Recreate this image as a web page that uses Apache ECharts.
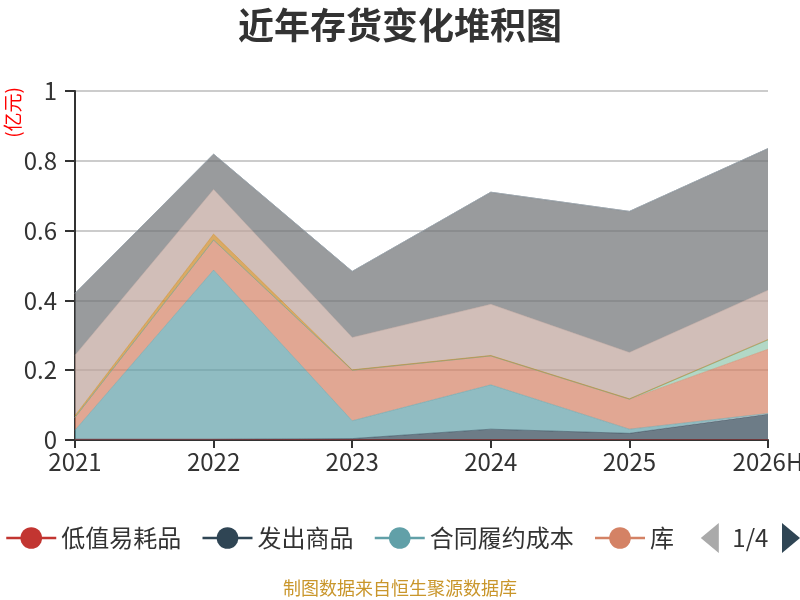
<!DOCTYPE html>
<html lang="zh">

<head>
  <meta charset="UTF-8">
  <title>近年存货变化堆积图</title>
  <script src="https://cdn.jsdelivr.net/npm/echarts@6/dist/echarts.min.js"></script>
  <style>
    html, body {
      margin: 0;
      padding: 0;
      background: #fff;
    }
  </style>
</head>

<body>
  <div id="main" style="width:800px;height:600px;"></div>
</body>
<script>
  // 年份
  let years = ['2021', '2022', '2023', '2024', '2025', '2026H']
  // 各类存货（亿元）
  let diZhiYiHaoPin = [0.002, 0.002, 0.001, 0.001, 0.001, 0.001]
  let faChuShangPin = [0, 0, 0.003, 0.030, 0.018, 0.073]
  let heTongLvYue = [0.026, 0.485, 0.051, 0.127, 0.012, 0.002]
  let kuCunShangPin = [0.037, 0.086, 0.145, 0.083, 0.086, 0.184]
  let weiTuoJiaGong = [0, 0, 0, 0, 0, 0.027]
  let weiTuoDaiXiao = [0, 0, 0, 0, 0, 0]
  let zhouZhuanCaiLiao = [0.005, 0.017, 0.001, 0.001, 0.001, 0.001]
  let yuanCaiLiao = [0.173, 0.128, 0.093, 0.147, 0.133, 0.141]
  let zaiChanPin = [0.177, 0.101, 0.189, 0.321, 0.404, 0.406]
  let ziZhiBanChengPin = [0, 0, 0, 0, 0, 0]
  let xiaoHaoXingShengWu = [0, 0, 0, 0, 0, 0]

  let names = ['低值易耗品', '发出商品', '合同履约成本', '库存商品', '委托加工物资',
    '委托代销商品', '周转材料', '原材料', '在产品', '自制半成品', '消耗性生物资产']
  let values = [diZhiYiHaoPin, faChuShangPin, heTongLvYue, kuCunShangPin, weiTuoJiaGong,
    weiTuoDaiXiao, zhouZhuanCaiLiao, yuanCaiLiao, zaiChanPin, ziZhiBanChengPin, xiaoHaoXingShengWu]

  let colors = ['#c23531', '#2f4554', '#61a0a8', '#d48265', '#91c7ae', '#749f83',
    '#ca8622', '#bda29a', '#6e7074', '#546570', '#c4ccd3']
  let fontFamily = '"Noto Sans CJK SC", "Noto Sans", sans-serif'

  initChart()

  function initChart() {
    let myChart = echarts.init(document.getElementById('main'))
    let series = names.map(function (name, i) {
      return {
        name: name,
        type: 'line',
        stack: 'total',
        symbol: 'circle',
        showSymbol: false,
        lineStyle: { width: 0.5 },
        areaStyle: { opacity: 0.7 },
        data: values[i]
      }
    })
    let option = {
      color: colors,
      textStyle: { fontFamily: fontFamily },
      title: [{
        text: '近年存货变化堆积图',
        left: 'center',
        top: 2,
        textStyle: { fontSize: 36, fontWeight: 'bold', color: '#333', fontFamily: fontFamily }
      }, {
        text: '制图数据来自恒生聚源数据库',
        left: 'center',
        top: 574,
        textStyle: { fontSize: 18, fontWeight: 'normal', color: '#c9962b', fontFamily: fontFamily }
      }],
      graphic: [{
        type: 'text',
        left: 3,
        top: 87,
        rotation: Math.PI / 2,
        style: { text: '(亿元)', fill: '#ff0000', font: '19px ' + fontFamily }
      }],
      legend: {
        type: 'scroll',
        left: 0,
        right: 0,
        top: 518,
        padding: [5, 0, 5, 5],
        itemWidth: 50,
        itemHeight: 27,
        itemGap: 20,
        lineStyle: { width: 2.5 },
        textStyle: { fontSize: 24, color: '#333' },
        pageIconSize: [18, 30],
        pageButtonGap: 26,
        pageButtonItemGap: 3,
        pageIconColor: '#2f4554',
        pageIconInactiveColor: '#aaa',
        pageTextStyle: { fontSize: 24, color: '#333' },
        data: names
      },
      grid: { left: 75, right: 32, top: 91, bottom: 160, outerBoundsMode: 'none' },
      xAxis: {
        type: 'category',
        boundaryGap: false,
        data: years,
        axisLine: { lineStyle: { color: '#333', width: 2 } },
        axisTick: { length: 8, lineStyle: { width: 2 } },
        axisLabel: { fontSize: 24, color: '#333', margin: 10 }
      },
      yAxis: {
        type: 'value',
        min: 0,
        max: 1,
        interval: 0.2,
        axisLine: { show: true, lineStyle: { color: '#333', width: 2 } },
        axisTick: { show: true, length: 10, lineStyle: { width: 2 } },
        axisLabel: { fontSize: 24, color: '#333', margin: 18 },
        splitLine: { lineStyle: { color: '#ccc', width: 2 } }
      },
      series: series
    }
    myChart.setOption(option)
  }
</script>

</html>
